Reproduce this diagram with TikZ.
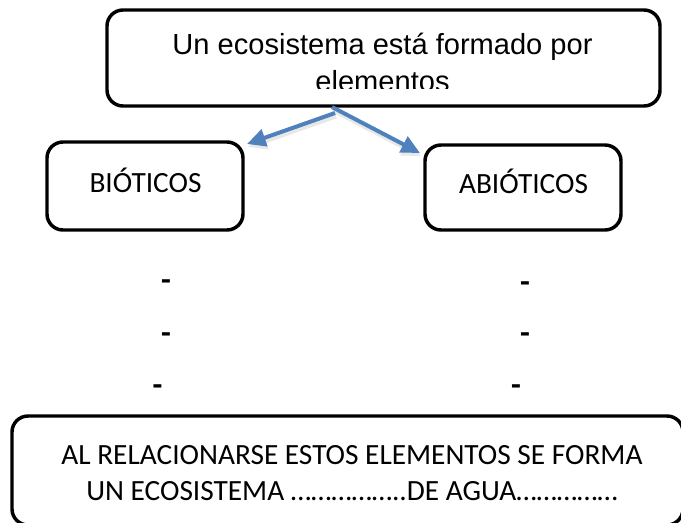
\documentclass[tikz,border=0pt]{standalone}
\usepackage{fontspec}
\setmainfont{Carlito}
\newfontfamily\arialf{Liberation Sans}
\usetikzlibrary{arrows.meta}
\definecolor{arrowblue}{HTML}{4F81BD}
\tikzset{
  rbox/.style={draw=black,line width=2.6pt,rounded corners=12pt},
  conn/.style={draw=arrowblue,line width=3pt,-{Triangle[length=14pt,width=13pt]}},
  connshadow/.style={draw=black!9,line width=3.6pt,-{Triangle[length=14pt,width=13pt]}},
  lbl/.style={font=\fontsize{22}{26}\selectfont,text=black,inner sep=0pt,anchor=base},
  toplbl/.style={font=\arialf\fontsize{21.8}{26}\selectfont,text=black,inner sep=0pt,anchor=base},
  dashmark/.style={font=\bfseries\fontsize{24}{26}\selectfont,inner sep=0pt}
}
\begin{document}
\begin{tikzpicture}[x=0.75pt,y=-0.75pt]
\useasboundingbox (0,0) rectangle (681,522);
\clip (0,0) rectangle (681,522);
% top box
\draw[rbox] (107,10) rectangle (660,106);
\begin{scope}
\clip (107,10) rectangle (660,88);
\node[toplbl] (topline1) at (382.5,54) {Un ecosistema está formado por};
\node[toplbl] (topline2) at (382.5,91) {elementos};
\end{scope}
% side boxes
\draw[rbox] (47,142) rectangle (243,230);
\node[lbl] (bio) at (145.5,192) {BIÓTICOS};
\draw[rbox] (425,145) rectangle (621,230);
\node[lbl] (abio) at (523.5,193) {ABIÓTICOS};
% connectors
\coordinate (splitl) at (335,113);
\coordinate (splitr) at (332,107);
\coordinate (lend) at (247,144);
\coordinate (rend) at (420,153);
\coordinate (splitls) at (336,116);
\coordinate (splitrs) at (333,110);
\coordinate (lends) at (248,147);
\coordinate (rends) at (421,156);
\draw[connshadow] (splitls) -- (lends);
\draw[connshadow] (splitrs) -- (rends);
\draw[conn] (splitl) -- (lend);
\draw[conn] (splitr) -- (rend);
% dashes
\node[dashmark] (dl1) at (166,285) {-};
\node[dashmark] (dl2) at (166,338) {-};
\node[dashmark] (dl3) at (157.5,390) {-};
\node[dashmark] (dr1) at (525,287) {-};
\node[dashmark] (dr2) at (525,338) {-};
\node[dashmark] (dr3) at (516,390) {-};
% bottom box
\draw[rbox] (12,416) rectangle (683,525);
\node[lbl] (bottom1) at (352,464) {AL RELACIONARSE ESTOS ELEMENTOS SE FORMA};
\node[lbl] (bottom2) at (352,500) {UN ECOSISTEMA ……………..DE AGUA……………};
\end{tikzpicture}
\end{document}
